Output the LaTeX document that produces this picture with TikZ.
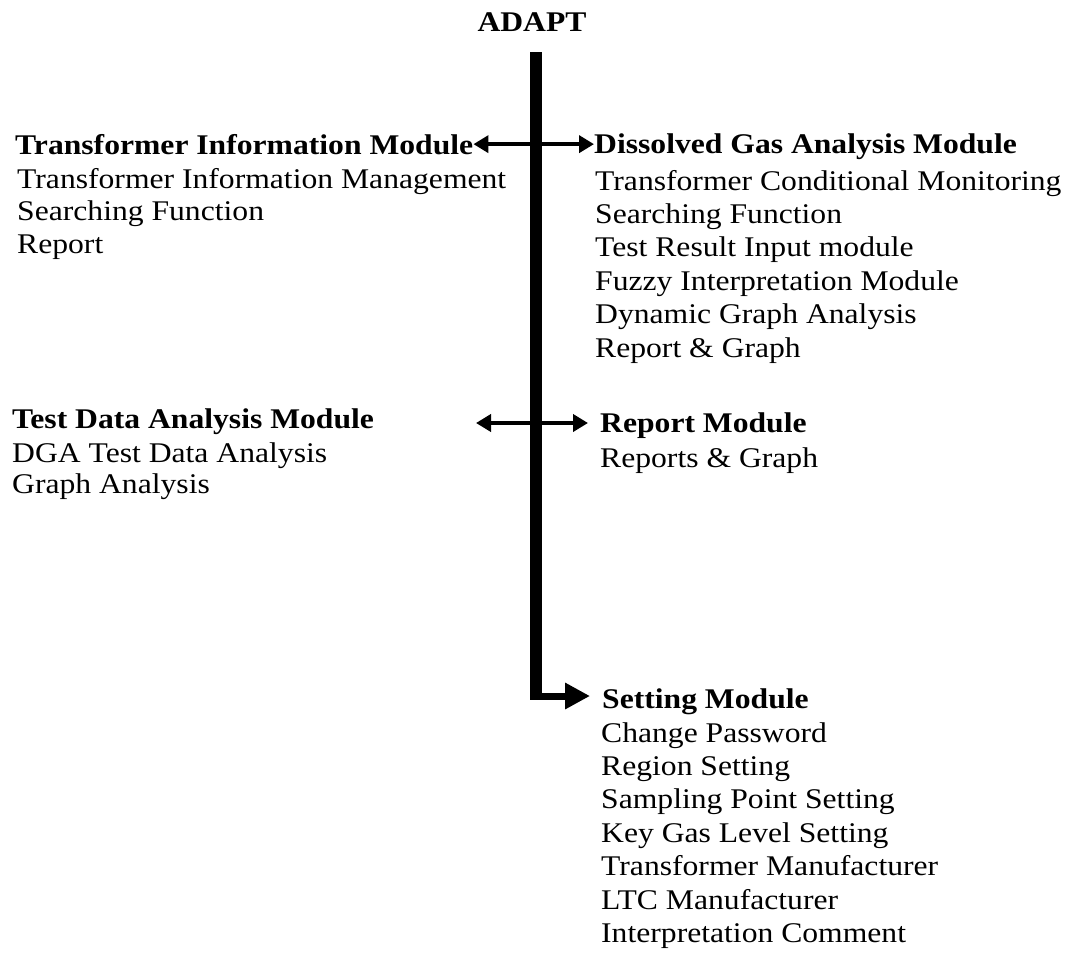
\documentclass[tikz,border=0pt]{standalone}
\usepackage{fontspec}
\setmainfont{Liberation Serif}[FakeStretch=1.11]
\usetikzlibrary{arrows.meta}
\newcommand\chartfont{\fontsize{28.5}{33}\selectfont}
\tikzset{
  head/.style={anchor=base west, inner sep=0pt, font=\chartfont\bfseries},
  item/.style={anchor=base west, inner sep=0pt, font=\chartfont},
  link/.style={line width=4.5pt, {Triangle[length=15pt,width=17pt]}-{Triangle[length=15pt,width=17pt]}},
}
\begin{document}
\begin{tikzpicture}[x=1pt,y=-1pt]
  \useasboundingbox (0,0) rectangle (1067,972);

  \node[head, anchor=base] (adapt) at (532,31) {ADAPT};
  \coordinate (bar-top) at (536,52);
  \coordinate (bar-end) at (536,700);
  \draw[line width=12pt] (bar-top) -- (bar-end);

  % upper pair
  \node[head] (tim) at (15,154) {Transformer Information Module};
  \foreach \t [count=\i] in {Transformer Information Management, Searching Function, Report}
    \node[item] (tim-\i) at (17,{188+32.5*(\i-1)}) {\t};

  \node[head] (dga) at (594,153) {Dissolved Gas Analysis Module};
  \foreach \t [count=\i] in {Transformer Conditional Monitoring, Searching Function,
      Test Result Input module, Fuzzy Interpretation Module, Dynamic Graph Analysis, Report \& Graph}
    \node[item] (dga-\i) at (595,{190+33.4*(\i-1)}) {\t};

  \draw[link] (tim.east) -- (tim.east -| dga.west);

  % lower pair
  \node[head] (tda) at (12,428) {Test Data Analysis Module};
  \foreach \t [count=\i] in {DGA Test Data Analysis, Graph Analysis}
    \node[item] (tda-\i) at (12,{462+31*(\i-1)}) {\t};

  \node[head] (rep) at (600,432) {Report Module};
  \node[item] (rep-1) at (600,467) {Reports \& Graph};

  \coordinate (tda-tip) at (476,423);
  \coordinate (rep-tip) at (588,423);
  \draw[link] (tda-tip) -- (rep-tip);

  % settings
  \node[head] (set) at (602,708) {Setting Module};
  \foreach \t [count=\i] in {Change Password, Region Setting, Sampling Point Setting, Key Gas Level Setting,
      Transformer Manufacturer, LTC Manufacturer, Interpretation Comment}
    \node[item] (set-\i) at (601,{742+33.4*(\i-1)}) {\t};

  \coordinate (set-tip) at (590,696);
  \draw[line width=7pt, -{Triangle[length=25pt,width=25pt]}] (530,696) -- (set-tip);
\end{tikzpicture}
\end{document}
